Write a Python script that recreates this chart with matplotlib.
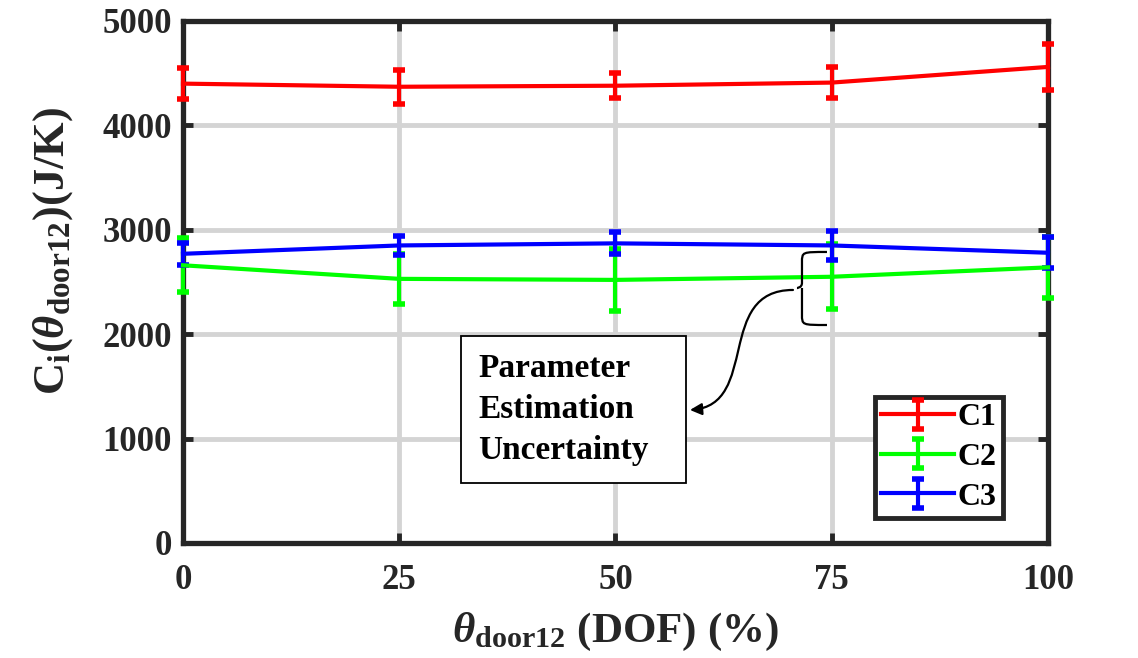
import matplotlib
matplotlib.use("Agg")
import matplotlib.pyplot as plt
from matplotlib.path import Path
from matplotlib.patches import PathPatch, FancyArrowPatch, Rectangle
from matplotlib.container import ErrorbarContainer
from matplotlib.legend_handler import HandlerErrorbar

# door opening levels (%)
door = [0, 25, 50, 75, 100]

# estimated capacitances (J/K) and their uncertainty
c1 = [4400, 4370, 4380, 4410, 4560]
c1_err = [150, 165, 120, 150, 220]
c2 = [2660, 2530, 2520, 2550, 2640]
c2_err = [260, 240, 300, 310, 290]
c3 = [2770, 2850, 2870, 2850, 2780]
c3_err = [105, 90, 105, 135, 150]

names = ["C1", "C2", "C3"]
colors = ["#ff0000", "#00ff00", "#0000ff"]

plt.rcParams["font.family"] = ["Liberation Serif", "DejaVu Serif"]
plt.rcParams["font.weight"] = "bold"
plt.rcParams["mathtext.fontset"] = "custom"
plt.rcParams["mathtext.rm"] = "Liberation Serif"
plt.rcParams["mathtext.bf"] = "Liberation Serif:bold"
plt.rcParams["mathtext.it"] = "Liberation Serif:italic"

fig = plt.figure(figsize=(11.38, 6.58), dpi=100)
ax = fig.add_axes([0.1608, 0.1748, 0.7601, 0.7933])

for vals, errs, name, col in zip([c1, c2, c3], [c1_err, c2_err, c3_err], names, colors):
    cont = ax.errorbar(door, vals, yerr=errs, color=col, lw=3, elinewidth=3,
                       capsize=4.5, capthick=4, label=name, zorder=4.5)
    for art in cont.get_children():
        art.set_clip_on(False)

ax.set_xlim(0, 100)
ax.set_ylim(0, 5000)
ax.set_xticks(door)
ax.set_yticks([0, 1000, 2000, 3000, 4000, 5000])
ax.grid(True, color="#d4d4d4", lw=3.5)
ax.set_axisbelow(True)
for s in ax.spines.values():
    s.set_linewidth(3.8)
    s.set_color("#262626")
    s.set_zorder(4)
ax.tick_params(direction="in", length=7, width=3.5, color="#262626",
               top=True, right=True, labelsize=25)
ax.tick_params(axis="x", pad=15)
ax.tick_params(axis="y", pad=8)
for lab in ax.get_xticklabels() + ax.get_yticklabels():
    lab.set_fontweight("bold")
    lab.set_color("#262626")

ax.set_ylabel(r"$\mathbf{C}_{\mathrm{i}}(\theta_{\mathrm{door12}})\mathbf{(J/K)}$",
              fontsize=32, color="#262626")
ax.yaxis.set_label_coords(-0.125, 0.56)
ax.set_xlabel(r"$\theta_{\mathrm{door12}}\ \mathbf{(DOF)\ (\%)}$",
              fontsize=31, color="#262626", labelpad=10)

leg = ax.legend(loc="lower right", bbox_to_anchor=(0.948, 0.048), fontsize=23,
                fancybox=False, framealpha=1, edgecolor="#262626",
                handlelength=2.3, handletextpad=0.1, borderpad=0.2,
                labelspacing=0.32, borderaxespad=0,
                handler_map={ErrorbarContainer: HandlerErrorbar(yerr_size=0.45)})
leg.get_frame().set_linewidth(3.5)
leg.set_zorder(6)
for t in leg.get_texts():
    t.set_fontweight("bold")

# annotation box
ax.add_patch(Rectangle((0.3214, 0.1149), 0.2601, 0.2817, transform=ax.transAxes,
                       fill=True, facecolor="white", edgecolor="black", lw=1.3, zorder=5))
ax.text(0.341, 0.2557, "Parameter\nEstimation\nUncertainty", transform=ax.transAxes,
        fontsize=24, fontweight="bold", va="center", ha="left", linespacing=1.42, zorder=6)

# curly brace beside the 75% error bars
bx0, bx1, bt, bm, bb = 0.7445, 0.7156, 0.5575, 0.4885, 0.4176
verts = [(bx0, bt), (bx1, bt), (bx1, bt), (bx1, bt - 0.02),
         (bx1, bm + 0.01),
         (bx1, bm), (0.7098, bm), (0.7098, bm),
         (bx1, bm), (bx1, bm - 0.01),
         (bx1, bb + 0.02), (bx1, bb), (bx1, bb), (bx0, bb)]
codes = [Path.MOVETO, Path.CURVE4, Path.CURVE4, Path.CURVE4,
         Path.LINETO,
         Path.CURVE4, Path.CURVE4, Path.CURVE4,
         Path.MOVETO, Path.LINETO,
         Path.LINETO, Path.CURVE4, Path.CURVE4, Path.CURVE4]
ax.add_patch(PathPatch(Path(verts, codes), transform=ax.transAxes, fill=False,
                       lw=1.6, color="black", zorder=6))

# s-shaped arrow from brace to the text box
arrow_path = Path([(0.7052, 0.4847), (0.6150, 0.4847), (0.6671, 0.2644), (0.5861, 0.2548)],
                  [Path.MOVETO, Path.CURVE4, Path.CURVE4, Path.CURVE4])
arr = FancyArrowPatch(path=arrow_path, transform=ax.transAxes,
                      arrowstyle="-|>,head_length=7,head_width=3.5",
                      lw=1.6, color="black", zorder=6)
ax.add_patch(arr)

fig.savefig("out.png", dpi=100)
